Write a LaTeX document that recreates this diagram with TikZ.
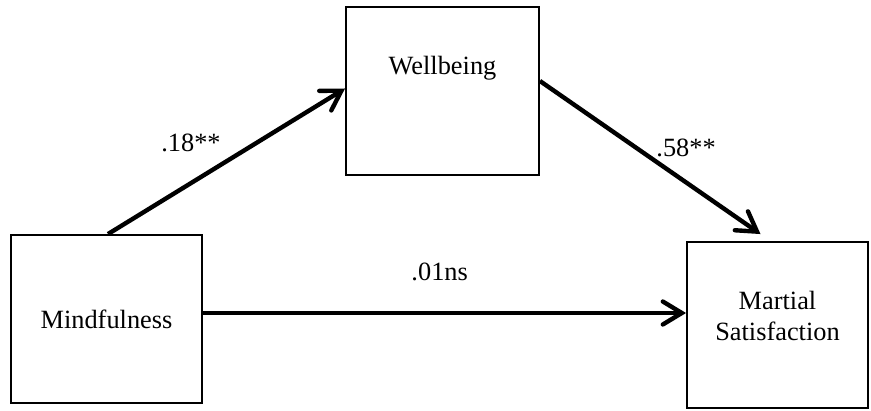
\documentclass[tikz,border=0pt]{standalone}
\usepackage{fontspec}
\setmainfont{Liberation Serif}
\usetikzlibrary{arrows.meta}

\tikzset{
	varbox/.style={draw, line width=1.1pt, align=center, font=\fontsize{15}{18}\selectfont},
	varname/.style={align=center, font=\fontsize{15}{18}\selectfont},
	path/.style={line width=2.5pt, -{Straight Barb[length=0.38cm, width=0.46cm, line cap=round]}},
	coef/.style={font=\fontsize{15}{18}\selectfont}
}

\begin{document}
\begin{tikzpicture}[x=0.02cm, y=-0.02cm]
			%%%%% START %%%%%
			
			\useasboundingbox (0, 0) rectangle (871, 411);
			
			\node[varbox, minimum width=3.82cm, minimum height=3.36cm] (mind) at (106.5, 319) {Mindfulness};
			\node[varbox, minimum width=3.86cm, minimum height=3.36cm,
				label={[varname, yshift=0.46cm]center:Wellbeing}] (well) at (442.5, 91) {};
			\node[varbox, minimum width=3.62cm, minimum height=3.32cm,
				label={[varname, yshift=0.18cm]center:Martial\\[-0.6pt]Satisfaction}] (mart) at (777.5, 325) {};
			
			\draw[path] ([xshift=0.03cm]mind.north) -- ([yshift=0.05cm]well.west)
				node[coef, pos=0.35, yshift=0.8cm] {.18**};
			\draw[path] ([yshift=0.2cm]well.east) -- ([xshift=-0.34cm, yshift=0.14cm]mart.north)
				node[coef, pos=0.64, xshift=0.1cm, yshift=0.62cm] {.58**};
			\draw[path] ([yshift=0.12cm]mind.east) -- ([yshift=0.12cm]mind.east -| mart.west)
				node[coef, pos=0.49, yshift=0.82cm] {.01ns};
			
			%%%%% END %%%%%
		\end{tikzpicture}
\end{document}
